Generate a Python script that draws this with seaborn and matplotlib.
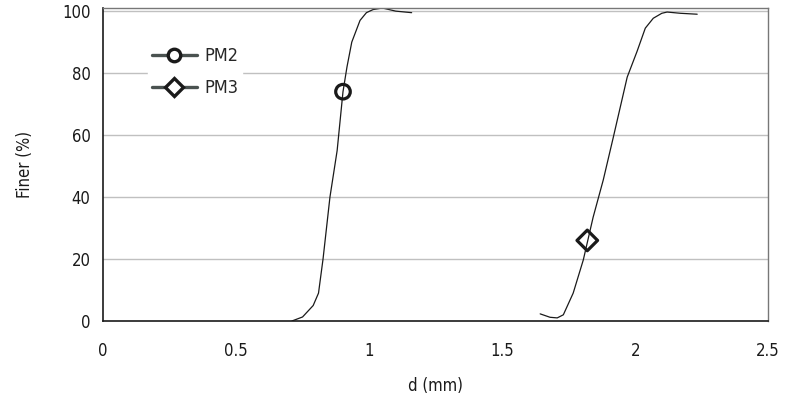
import matplotlib
matplotlib.use("Agg")
import matplotlib.pyplot as plt
import seaborn as sns
import pandas as pd
from matplotlib.lines import Line2D

# Data
pm2_d = [0.71, 0.75, 0.79, 0.81, 0.827, 0.853, 0.88, 0.902, 0.917, 0.935, 0.966, 0.99, 1.015, 1.05, 1.1, 1.16]
pm2_finer = [0, 1.3, 5, 9, 20, 40, 55, 74, 82, 90, 97, 99.5, 100.5, 101, 100, 99.5]
pm3_d = [1.643, 1.68, 1.707, 1.73, 1.767, 1.805, 1.842, 1.88, 1.917, 1.97, 2.007, 2.038, 2.068, 2.1, 2.12, 2.17, 2.233]
pm3_finer = [2.3, 1.2, 1, 2, 9, 19.7, 33.5, 45.5, 59, 78.7, 87, 94.5, 97.7, 99.3, 99.7, 99.3, 99]
marker_d = [0.902, 1.82]
marker_finer = [74, 26]
series_names = ["PM2", "PM3"]
x_ticks = [0, 0.5, 1, 1.5, 2, 2.5]
x_tick_labels = ["0", "0.5", "1", "1.5", "2", "2.5"]
y_ticks = [0, 20, 40, 60, 80, 100]

sns.set_style("white")
plt.rcParams['font.family'] = ['DejaVu Sans']
plt.rcParams['font.stretch'] = 'condensed'

df = pd.concat([
    pd.DataFrame({"d": pm2_d, "finer": pm2_finer, "series": "PM2"}),
    pd.DataFrame({"d": pm3_d, "finer": pm3_finer, "series": "PM3"}),
])
mk = pd.DataFrame({"d": marker_d, "finer": marker_finer, "series": series_names})

fig = plt.figure(figsize=(7.92, 4.01), dpi=100)
ax = fig.add_axes([0.130, 0.1995, 0.840, 0.7805])

for y in y_ticks[1:]:
    ax.axhline(y, color="#c0c0c0", lw=1.0, zorder=0)

sns.lineplot(data=df, x="d", y="finer", units="series", estimator=None, sort=False,
             color="#1a1a1a", lw=0.9, ax=ax, legend=False)
sns.scatterplot(data=mk, x="d", y="finer", style="series", markers={"PM2": "o", "PM3": "D"},
                s=110, facecolor="none", edgecolor="#1a1a1a", linewidth=2.3, ax=ax, legend=False, zorder=5)

ax.set_xlim(0, 2.5)
ax.set_ylim(0, 101)
ax.set_xticks(x_ticks)
ax.set_xticklabels(x_tick_labels)
ax.set_yticks(y_ticks)
ax.tick_params(axis="both", direction="out", length=5, width=1, color="#555555",
               labelsize=12, labelcolor="#1a1a1a", pad=4)
ax.tick_params(axis="x", pad=10)
ax.set_xlabel("d (mm)", fontsize=12, color="#1a1a1a", labelpad=12)
ax.set_ylabel("Finer (%)", fontsize=12, color="#1a1a1a", labelpad=20)

for side in ["left", "bottom"]:
    ax.spines[side].set_color("#1a1a1a")
    ax.spines[side].set_linewidth(1.2)
for side in ["top", "right"]:
    ax.spines[side].set_visible(True)
    ax.spines[side].set_color("#777777")
    ax.spines[side].set_linewidth(1.0)

handles = [
    Line2D([0], [0], color="#4a5250", lw=2.4, marker="o", markersize=9,
           markerfacecolor="white", markeredgecolor="#1a1a1a", markeredgewidth=2.4),
    Line2D([0], [0], color="#4a5250", lw=2.4, marker="D", markersize=9,
           markerfacecolor="white", markeredgecolor="#1a1a1a", markeredgewidth=2.4),
]
leg = ax.legend(handles, series_names, loc="center left", bbox_to_anchor=(0.068, 0.795),
                frameon=True, fontsize=13, handlelength=2.5, handletextpad=0.4,
                labelspacing=0.75, borderpad=0.2, borderaxespad=0)
leg.get_frame().set_edgecolor("white")
leg.get_frame().set_facecolor("white")
leg.get_frame().set_alpha(1)

fig.savefig("out.png", dpi=100)
